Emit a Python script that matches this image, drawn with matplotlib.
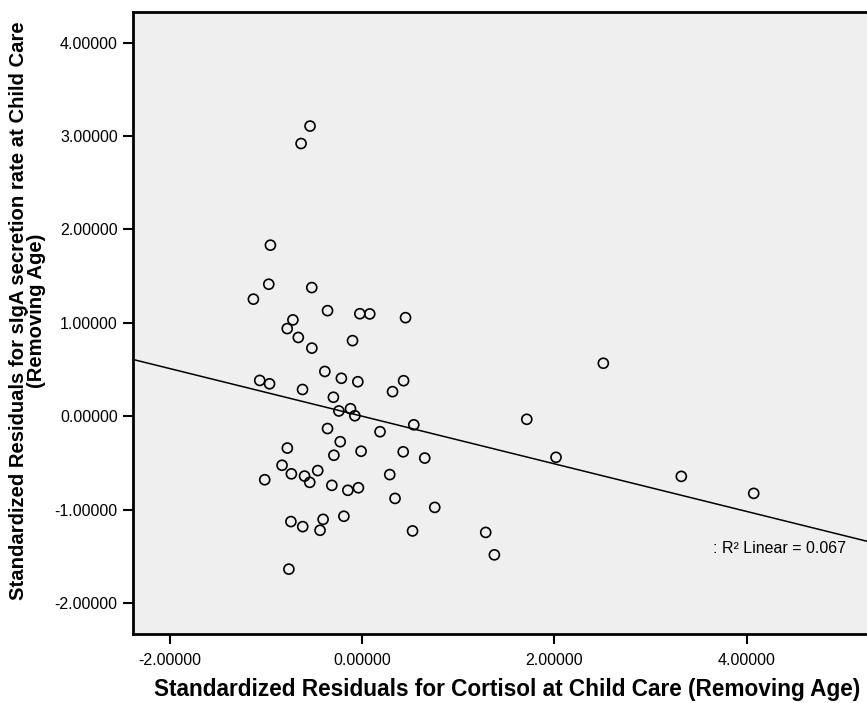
import numpy as np
import matplotlib
matplotlib.use("Agg")
import matplotlib.pyplot as plt

plt.rcParams['font.family'] = ['Liberation Sans', 'DejaVu Sans']

# standardized residuals
cortisol_resid = [
    -0.539, -0.632, -0.951, -0.968, -0.521, -1.128, -0.357, -0.021, 0.082, 0.454,
    -0.717, -0.776, -0.661, -0.097, -0.520, -0.385, -0.213, -0.042, 0.434, -1.062,
    -0.960, -0.617, 0.319, -0.296, -0.239, -0.118, -0.073, 0.540, -0.357, 0.189,
    -0.225, -0.775, -0.008, -0.291, 0.430, 0.654, -0.830, -0.459, -0.733, -0.596,
    -0.542, -1.010, -0.312, -0.146, -0.036, 0.290, 0.345, 0.758, -0.738, -0.615,
    -0.403, -0.435, -0.187, 0.527, -0.759, 2.511, 1.715, 2.019, 3.322, 4.075,
    1.288, 1.378,
]
siga_resid = [
    3.107, 2.920, 1.832, 1.414, 1.378, 1.254, 1.131, 1.098, 1.096, 1.056,
    1.032, 0.939, 0.844, 0.810, 0.730, 0.480, 0.407, 0.370, 0.381, 0.384,
    0.348, 0.287, 0.264, 0.204, 0.057, 0.081, 0.006, -0.091, -0.131, -0.165,
    -0.272, -0.340, -0.374, -0.417, -0.380, -0.447, -0.524, -0.581, -0.616, -0.640,
    -0.707, -0.679, -0.739, -0.792, -0.765, -0.624, -0.879, -0.975, -1.127, -1.181,
    -1.103, -1.220, -1.070, -1.227, -1.636, 0.568, -0.032, -0.439, -0.643, -0.825,
    -1.243, -1.483,
]
x_ticks = [-2, 0, 2, 4]
y_ticks = [-2, -1, 0, 1, 2, 3, 4]
r2_label = ": R\u00b2 Linear = 0.067"

x = np.array(cortisol_resid)
y = np.array(siga_resid)

fig = plt.figure(figsize=(8.67, 7.03), dpi=100)
ax = fig.add_axes([0.1534, 0.0982, 0.8466, 0.885])
ax.set_facecolor('#efefef')

ax.scatter(x, y, s=52, facecolors='none', edgecolors='black', linewidths=1.2, zorder=3)

# linear fit across the full x range
xmin, xmax = -2.38, 5.253
slope, intercept = np.polyfit(x, y, 1)
xs = np.array([xmin, xmax])
ax.plot(xs, intercept + slope * xs, color='black', lw=1.1, zorder=2)

ax.set_xlim(xmin, xmax)
ax.set_ylim(-2.33, 4.33)
ax.set_xticks(x_ticks)
ax.set_yticks(y_ticks)
ax.set_xticklabels([f"{v:.5f}" for v in x_ticks])
ax.set_yticklabels([f"{v:.5f}" for v in y_ticks])
ax.tick_params(direction='out', length=7, width=1.5, labelsize=11.5, color='black')
ax.tick_params(axis='x', pad=7)
ax.tick_params(axis='y', pad=4)

for side in ['left', 'bottom', 'top']:
    ax.spines[side].set_linewidth(2)
    ax.spines[side].set_color('black')
ax.spines['right'].set_visible(False)

ax.text(3.65, -1.41, r2_label, fontsize=11.5, va='center', ha='left')

ax.set_xlabel('Standardized Residuals for Cortisol at Child Care (Removing Age)',
              fontsize=16.3, fontweight='bold')
ax.xaxis.set_label_coords(0.5095, -0.071)
ax.set_ylabel('Standardized Residuals for sIgA secretion rate at Child Care\n(Removing Age)',
              fontsize=14.6, fontweight='bold', linespacing=0.95)
ax.yaxis.set_label_coords(-0.1185, 0.52)

plt.savefig('out.png', dpi=100)
